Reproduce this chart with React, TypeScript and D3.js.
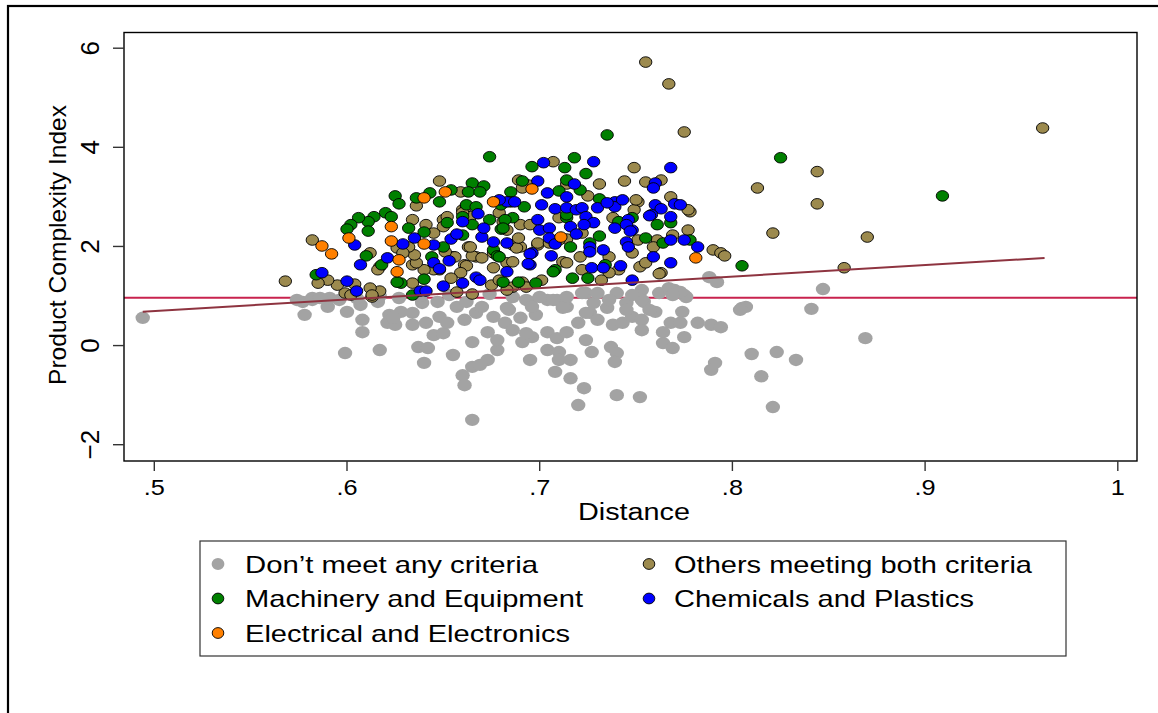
import React from 'react';
import * as d3 from 'd3';

type P = [number, number];

// Distance (x), Product Complexity Index (y)
const dontMeet: P[] = [
  [.577,.88],[.578,.62],[.582,.92],[.590,.78],[.600,.68],[.607,.82],[.608,.52],[.608,.27],[.599,-.15],[.617,-.09],[.622,.62],[.621,.46],[.625,.42],[.628,.68],[.634,.66],[.634,.42],[.627,.96],[.639,.86],[.641,.46],[.645,.21],[.637,-.03],[.642,-.05],[.640,-.35],[.650,.25],[.655,-.19],[.660,-.60],[.661,-.80],[.665,-.43],[.665,.07],[.665,-1.50],[.647,.88],[.648,.58],[.652,.46],[.657,.78],[.661,.52],[.667,.66],[.662,.88],[.591,.96],[.574,.92],[.605,.96],[.616,.88],[.494,.56],[.582,.96],[.624,.56],
  [.670,.78],[.673,.27],[.673,-.29],[.678,-.09],[.678,.11],[.682,.46],[.684,.72],[.686,.98],[.690,.56],[.691,.07],[.695,-.29],[.696,.17],[.698,.62],[.695,.88],[.704,.92],[.704,.27],[.704,-.09],[.709,.15],[.710,-.13],[.710,-.29],[.708,-.53],[.716,-.29],[.716,-.66],[.714,.27],[.714,.78],[.709,.92],[.720,.46],[.723,-.86],[.720,-1.20],[.724,1.06],[.726,.66],[.724,.11],[.727,-.13],[.730,.52],[.728,.86],[.735,.76],[.737,-.03],[.740,-.15],[.739,-.33],[.738,.42],[.743,.46],[.748,.58],[.745,.86],[.753,1.12],[.754,.88],[.753,.52],[.753,.31],[.760,.68],[.764,.27],[.764,.05],[.769,-.05],[.768,.46],[.770,1.12],[.762,1.06],[.740,-1.00],[.752,-1.04],[.669,-.39],[.676,.58],[.686,.31],[.693,.25],
  [.788,1.38],[.792,1.28],[.775,1.02],[.774,.68],[.773,.46],[.775,.17],[.782,.46],[.789,.42],[.794,.37],[.805,.76],[.807,.78],[.791,-.35],[.789,-.49],[.810,-.17],[.823,-.13],[.833,-.29],[.815,-.62],[.821,-1.24],[.841,.74],[.847,1.14],[.869,.15],
  [.776,.98],[.773,1.08],[.767,1.16],[.753,.92],[.748,1.02],[.740,1.06],[.736,.92],[.730,1.06],[.722,1.06],[.714,.98],[.707,.92],[.700,.98],[.693,.92],[.683,.76],[.696,.78],[.712,.76],[.724,.66],[.745,.72],[.757,.72],[.769,1.02],[.804,.72],
  [.586,.96],[.596,.92],[.617,1.0],[.638,1.0],[.653,1.02],[.674,1.04],
];

const othersBoth: P[] = [
  [.582,2.13],[.648,3.32],[.636,2.82],[.634,2.54],[.650,2.54],[.660,2.74],[.663,1.99],[.659,3.10],[.667,1.79],[.661,1.63],[.655,1.79],[.634,1.63],[.626,1.97],[.617,1.59],[.612,1.87],[.641,2.44],[.645,2.27],[.650,2.40],
  [.707,3.71],[.749,3.59],[.744,3.32],[.731,3.26],[.689,3.34],[.694,3.24],[.725,3.02],[.751,2.90],[.749,2.74],[.768,3.00],[.690,2.44],[.714,2.15],[.699,2.03],[.690,1.99],[.686,2.03],[.721,1.79],[.712,1.69],[.752,1.59],[.763,1.47],[.736,1.79],[.775,4.31],
  [.961,4.39],[.844,3.51],[.813,3.18],[.844,2.86],[.821,2.27],[.870,2.19],[.858,1.57],[.778,2.70],[.777,2.33],[.790,1.93],[.794,1.87],[.796,1.81],[.755,5.72],[.767,5.28],
  [.599,1.06],[.604,1.24],[.617,1.10],[.613,.98],[.595,1.22],[.590,1.32],[.634,1.26],[.657,1.08],[.665,1.04],[.675,1.22],[.686,1.18],[.683,1.67],[.676,1.87],[.665,1.81],[.662,1.61],[.659,1.47],[.654,1.36],[.648,1.53],[.645,1.53],[.640,1.53],[.636,1.67],[.635,1.83],[.632,1.99],[.629,1.87],[.691,3.18],[.679,2.68],[.681,2.50],[.664,1.99],[.664,2.60],[.652,2.60],[.662,2.80],[.660,2.68],[.670,1.77],[.688,1.97],[.689,2.17],[.695,2.44],[.683,2.33],[.656,1.79],[.651,1.89],[.676,1.57],[.679,1.32],[.691,1.28],[.683,1.12],[.612,1.16],
  [.568,1.30],[.585,1.26],[.602,1.02],[.613,1.02],[.616,1.53],
  [.755,3.30],[.763,3.34],[.777,2.74],[.762,1.45],[.755,1.67],[.748,1.87],[.741,1.53],[.736,1.47],[.732,1.32],[.722,1.53],[.714,1.67],[.701,1.32],[.693,1.18],[.699,2.07],[.686,1.69],[.710,2.58],[.714,3.26],[.750,2.94],[.738,2.58],[.722,2.27],[.710,2.13],[.705,2.07],[.751,2.13],[.761,2.13],[.759,1.99],[.769,2.23],
];

const machinery: P[] = [
  [.625,3.02],[.627,2.86],[.636,2.98],[.643,3.08],[.654,3.14],[.665,3.28],[.663,3.10],[.648,2.90],[.662,2.84],[.667,2.80],[.620,2.68],[.623,2.60],[.614,2.60],[.611,2.50],[.606,2.58],[.602,2.44],[.600,2.35],[.611,2.31],[.632,2.37],[.640,2.29],[.644,1.79],[.610,1.81],[.618,1.63],[.652,2.48],[.660,2.60],[.665,2.44],[.650,1.99],[.660,2.23],[.584,1.43],
  [.735,4.25],[.674,3.81],[.696,3.61],[.713,3.59],[.718,3.79],[.724,3.47],[.671,3.22],[.685,3.10],[.691,3.32],[.710,3.12],[.714,3.34],[.721,3.14],[.692,2.80],[.731,2.96],[.680,2.84],[.686,2.58],[.682,2.54],[.680,2.35],[.674,2.54],[.676,1.93],[.678,1.81],[.714,2.58],[.731,2.21],[.716,1.99],[.726,2.07],[.734,1.63],[.741,2.50],[.748,2.58],[.761,2.44],[.755,2.17],[.764,2.07],[.768,2.48],[.708,1.53],[.669,3.10],
  [.825,3.79],[.805,1.61],[.778,2.13],[.909,3.02],
  [.628,1.26],[.640,1.34],[.634,1.02],[.698,1.26],[.626,1.28],
  [.717,1.36],[.725,1.36],[.707,1.49],[.685,2.90],[.681,2.37],[.679,1.79],[.689,1.28],[.681,1.28],[.714,2.64],
];

const chemicals: P[] = [
  [.604,2.03],[.607,1.63],[.621,1.77],[.629,2.05],[.635,2.17],[.645,2.03],[.660,2.50],[.654,2.15],[.657,2.25],[.653,1.71],[.645,1.67],[.648,1.55],[.668,2.66],[.587,1.47],
  [.702,3.69],[.728,3.71],[.768,3.59],[.699,3.32],[.718,3.26],[.760,3.28],[.759,3.18],[.704,3.08],[.714,3.00],[.683,2.90],[.687,2.90],[.701,2.84],[.708,2.76],[.714,2.78],[.719,2.74],[.722,2.78],[.730,2.78],[.739,2.90],[.739,2.80],[.743,2.94],[.760,2.84],[.763,2.76],[.770,2.86],[.699,2.54],[.724,2.60],[.728,2.48],[.746,2.54],[.758,2.64],[.768,2.60],[.700,2.33],[.705,2.37],[.716,2.40],[.719,2.25],[.739,2.37],[.748,2.33],[.745,2.44],[.670,2.19],[.676,2.09],[.683,2.07],[.705,2.17],[.708,2.05],[.726,1.99],[.733,1.93],[.745,2.09],[.746,1.99],[.768,2.13],[.696,1.87],[.706,1.81],[.759,1.79],[.695,1.63],[.727,1.57],[.742,1.61],[.768,1.67],[.683,1.49],
  [.773,2.84],[.775,2.13],[.782,1.99],
  [.600,1.30],[.605,1.10],[.650,1.20],[.671,2.37],[.660,1.26],[.667,1.38],[.669,1.32],[.638,1.10],[.641,1.10],
  [.735,2.88],[.723,2.44],[.747,2.31],[.757,2.62],[.733,1.57],[.726,1.89],[.695,1.85],[.694,1.65],[.679,2.94],[.748,1.32],
];

const electrical: P[] = [
  [.587,2.01],[.592,1.85],[.601,2.17],[.623,2.40],[.623,2.11],[.640,2.98],[.651,3.10],[.640,2.05],[.627,1.73],[.626,1.49],[.676,2.90],[.696,3.16],[.711,2.19],[.781,1.77],
];

const xTicks = [0.5, 0.6, 0.7, 0.8, 0.9, 1];
const xTickLabels = ['.5', '.6', '.7', '.8', '.9', '1'];
const yTicks = [-2, 0, 2, 4, 6];
const yTickLabels = ['\u22122', '0', '2', '4', '6'];

const meanPCI = 0.966;
const fitIntercept = -0.462;
const fitSlope = 2.318;
const fitRange = [0.494, 0.962];

const legendItems = [
  { label: 'Don\u2019t meet any criteria', color: '#a3a3a3', stroke: 'none', col: 0, row: 0, w: 293 },
  { label: 'Others meeting both criteria', color: '#9c8a4e', stroke: '#000', col: 1, row: 0, w: 358 },
  { label: 'Machinery and Equipment', color: '#008000', stroke: '#000', col: 0, row: 1, w: 338 },
  { label: 'Chemicals and Plastics', color: '#0000ff', stroke: '#000', col: 1, row: 1, w: 300 },
  { label: 'Electrical and Electronics', color: '#ff8000', stroke: '#000', col: 0, row: 2, w: 325 },
];

const FONT = '"Liberation Sans", Arial, Helvetica, sans-serif';

export default function App() {
  const x = d3.scaleLinear().domain([0.5, 1]).range([154.3, 1117.8]);
  const y = d3.scaleLinear().domain([-2, 6]).range([444.7, 48.2]);
  const plot = { l: 124, t: 32.5, r: 1137, b: 461 };

  const fitLine = d3.line<number>().x((d) => x(d)).y((d) => y(fitIntercept + fitSlope * d));

  const series: { data: P[]; color: string; stroke: string; rx: number; ry: number }[] = [
    { data: dontMeet, color: '#a3a3a3', stroke: 'none', rx: 7.2, ry: 6.2 },
    { data: othersBoth, color: '#9c8a4e', stroke: '#000', rx: 6.2, ry: 5.3 },
    { data: machinery, color: '#008000', stroke: '#000', rx: 6.2, ry: 5.3 },
    { data: chemicals, color: '#0000ff', stroke: '#000', rx: 6.2, ry: 5.3 },
    { data: electrical, color: '#ff8000', stroke: '#000', rx: 6.2, ry: 5.3 },
  ];

  return (
    <svg width={1158} height={713} style={{ position: 'absolute', left: 0, top: 0, background: '#fff' }} fontFamily={FONT}>
      <rect x={0} y={0} width={1158} height={713} fill="#fff" />
      {/* outer frame */}
      <rect x={8} y={6} width={1300} height={900} fill="none" stroke="#000" strokeWidth={2.2} />

      {/* mean line */}
      <line x1={plot.l} x2={plot.r} y1={y(meanPCI)} y2={y(meanPCI)} stroke="#c8234e" strokeWidth={2} />

      {series.map((s, i) => (
        <g key={i}>
          {s.data.map((d, j) => (
            <ellipse key={j} cx={x(d[0])} cy={y(d[1])} rx={s.rx} ry={s.ry} fill={s.color} stroke={s.stroke} strokeWidth={0.9} />
          ))}
        </g>
      ))}

      {/* fitted line */}
      <path d={fitLine(fitRange) || ''} fill="none" stroke="#8e3440" strokeWidth={2} />

      {/* plot frame */}
      <rect x={plot.l} y={plot.t} width={plot.r - plot.l} height={plot.b - plot.t} fill="none" stroke="#000" strokeWidth={1.4} />

      {/* y axis */}
      {yTicks.map((t, i) => (
        <g key={t}>
          <line x1={113} x2={plot.l} y1={y(t)} y2={y(t)} stroke="#333" strokeWidth={1.4} />
          <text transform={`translate(99,${y(t)}) rotate(-90)`} textAnchor="middle" fontSize={26} fill="#000">
            {yTickLabels[i]}
          </text>
        </g>
      ))}
      <text transform="translate(66,245) rotate(-90)" textAnchor="middle" fontSize={24.5} textLength={280} lengthAdjust="spacingAndGlyphs" fill="#000">
        Product Complexity Index
      </text>

      {/* x axis */}
      {xTicks.map((t, i) => (
        <g key={t}>
          <line x1={x(t)} x2={x(t)} y1={plot.b} y2={471} stroke="#333" strokeWidth={1.4} />
          <text transform={`translate(${x(t)},495) scale(1.15,1)`} textAnchor="middle" fontSize={22} fill="#000">
            {xTickLabels[i]}
          </text>
        </g>
      ))}
      <text x={634} y={520} textAnchor="middle" fontSize={23} textLength={112} lengthAdjust="spacingAndGlyphs" fill="#000">
        Distance
      </text>

      {/* legend */}
      <rect x={200} y={541} width={866} height={115} fill="#fff" stroke="#333" strokeWidth={1.2} />
      {legendItems.map((it, i) => {
        const mx = it.col === 0 ? 218 : 649;
        const tx = it.col === 0 ? 245 : 674;
        const cy = 564 + it.row * 34.5;
        return (
          <g key={i}>
            <ellipse cx={mx} cy={cy} rx={it.stroke === 'none' ? 6.4 : 5.8} ry={it.stroke === 'none' ? 6 : 5.4} fill={it.color} stroke={it.stroke} strokeWidth={0.9} />
            <text x={tx} y={cy + 8.8} fontSize={24} textLength={it.w} lengthAdjust="spacingAndGlyphs" fill="#000">
              {it.label}
            </text>
          </g>
        );
      })}
    </svg>
  );
}
